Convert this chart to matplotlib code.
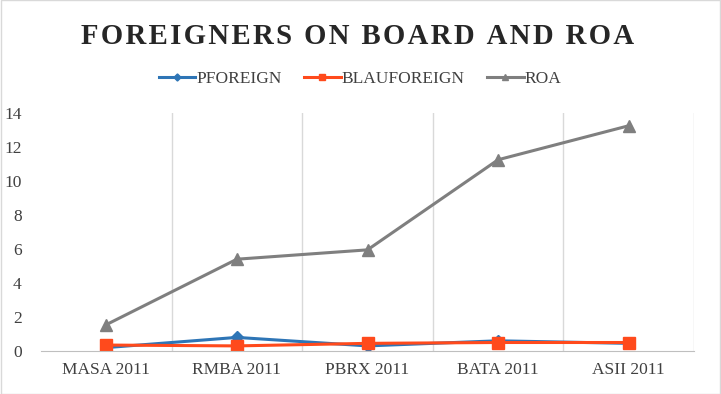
import matplotlib.pyplot as plt
import numpy as np

categories = ["MASA 2011", "RMBA 2011", "PBRX 2011", "BATA 2011", "ASII 2011"]
pforeign = [0.2, 0.8, 0.3, 0.6, 0.45]
blauforeign = [0.35, 0.3, 0.45, 0.5, 0.5]
roa = [1.55, 5.4, 5.95, 11.25, 13.25]
yticks = [0, 2, 4, 6, 8, 10, 12, 14]
title = "FOREIGNERS ON BOARD AND ROA"

plt.rcParams['font.family'] = ['Liberation Serif', 'DejaVu Serif']

fig = plt.figure(figsize=(7.21, 3.94), dpi=100)
ax = fig.add_axes([41/721, 1-351/394, (694-41)/721, (351-113)/394])

x = np.arange(len(categories))
ax.plot(x, pforeign, color='#2E75B6', lw=2.2, marker='D', ms=6, label='PFOREIGN')
ax.plot(x, blauforeign, color='#FF4A1C', lw=2.2, marker='s', ms=8, label='BLAUFOREIGN')
ax.plot(x, roa, color='#7F7F7F', lw=2.2, marker='^', ms=8, label='ROA')

ax.set_xlim(-0.5, len(categories)-0.5)
ax.set_ylim(0, 14)
ax.set_yticks(yticks)
ax.set_xticks(x)
ax.set_xticklabels(categories, fontsize=12.5, color='#404040')
ax.tick_params(axis='y', labelsize=12.5, colors='#404040', length=0, pad=14)
ax.tick_params(axis='x', length=0, pad=8)
for b in np.arange(0.5, len(categories)-0.5, 1):
    ax.axvline(b, color='#D9D9D9', lw=1, zorder=0)
ax.axvline(len(categories)-0.5, color='#D9D9D9', lw=1, zorder=0)
for s in ['top', 'right', 'left']:
    ax.spines[s].set_visible(False)
ax.spines['bottom'].set_color('#BFBFBF')

spaced = "\u200a".join(title)
fig.text(358/721, 1-37/394, spaced, ha='center', va='center',
         fontsize=20.7, fontweight='bold', color='#262626')
fig.legend(loc='center', bbox_to_anchor=(360/721, 1-79/394), ncol=3, frameon=False,
           fontsize=12.5, handlelength=2.1, columnspacing=1.3, handletextpad=0.05,
           labelcolor='#404040', markerscale=0.6)

fig.patches.append(plt.Rectangle((0.001, 0.001), 0.998, 0.998, transform=fig.transFigure,
                                 fill=False, edgecolor='#D9D9D9', lw=1))
fig.savefig('out.png', dpi=100)
